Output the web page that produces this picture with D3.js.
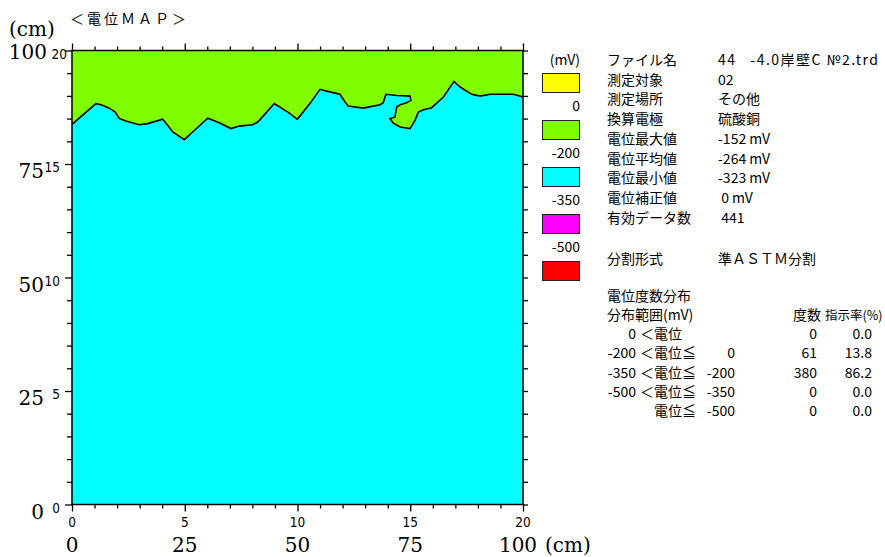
<!DOCTYPE html>
<html>
<head>
<meta charset="utf-8">
<script src="https://cdn.jsdelivr.net/npm/d3@7"></script>
<style>
  html, body { margin: 0; padding: 0; background: #fff; }
  svg { display: block; }
  .jp { font-family: "Noto Sans CJK JP", sans-serif; font-size: 14px; fill: #000; white-space: pre; }
  .small { font-family: "Liberation Sans Narrow", "DejaVu Sans Condensed", sans-serif; font-size: 13.5px; fill: #000; }
  .serif { font-family: "DejaVu Serif", serif; font-size: 20px; fill: #000; }
</style>
</head>
<body>
<svg id="chart" width="885" height="557"></svg>
<script>
// Contour between the -200..0 mV zone and the -350..-200 mV zone (grid units, 1 unit = 5 cm)
const boundaryX = [0.00, 1.06, 1.29, 1.65, 1.92, 2.10, 2.39, 2.98, 3.36, 4.02, 4.17, 4.47, 4.98, 5.35,
  6.02, 6.53, 7.05, 7.42, 8.01, 8.24, 8.97, 9.67, 9.99, 10.55, 11.00, 11.29, 11.88, 12.11, 12.25,
  12.92, 13.66, 13.80, 13.92, 14.40, 14.99, 15.03, 14.84, 14.55, 14.40, 14.32, 14.10, 14.25, 14.55,
  14.99, 15.21, 15.36, 15.58, 15.95, 16.47, 16.94, 17.21, 17.73, 18.09, 18.54, 19.57, 20.00];
const boundaryY = [16.75, 17.66, 17.61, 17.46, 17.29, 17.00, 16.89, 16.73, 16.78, 16.97, 16.80, 16.41, 16.07, 16.41,
  17.02, 16.82, 16.56, 16.67, 16.73, 16.85, 17.66, 17.22, 16.97, 17.66, 18.29, 18.21, 18.07, 17.73, 17.55,
  17.46, 17.61, 17.70, 18.07, 18.02, 17.99, 17.80, 17.70, 17.61, 17.51, 17.07, 17.00, 16.80, 16.63,
  16.56, 16.92, 17.29, 17.39, 17.48, 17.95, 18.64, 18.39, 18.07, 17.99, 18.07, 18.07, 17.95];

// Axis ticks and labels
const gridTicks = d3.range(0, 21);
const majorTicks = [0, 5, 10, 15, 20];
const cmLabels = ["0", "25", "50", "75", "100"];

// Potential classes (mV)
const legendColors = ["#FFFF00", "#80FF00", "#00FFFF", "#FF00FF", "#FF0000"];
const legendBreaks = ["0", "-200", "-350", "-500"];

// Measurement summary
const infoLabels = ["ファイル名", "測定対象", "測定場所", "換算電極", "電位最大値", "電位平均値", "電位最小値", "電位補正値", "有効データ数"];
const infoValues = ["44   -4.0岸壁C №2.trd", "02", "その他", "硫酸銅", "-152 mV", "-264 mV", "-323 mV", " 0 mV", " 441"];
const splitLabel = "分割形式";
const splitValue = "準ＡＳＴＭ分割";

// Frequency distribution
const distLower = ["0", "-200", "-350", "-500", ""];
const distRelation = ["＜電位", "＜電位≦", "＜電位≦", "＜電位≦", "電位≦"];
const distUpper = ["", "0", "-200", "-350", "-500"];
const distCount = [0, 61, 380, 0, 0];
const distRate = ["0.0", "13.8", "86.2", "0.0", "0.0"];

const svg = d3.select("#chart");
svg.append("rect").attr("width", 885).attr("height", 557).attr("fill", "#fff");

const x = d3.scaleLinear().domain([0, 20]).range([72, 523]);
const y = d3.scaleLinear().domain([0, 20]).range([504.5, 50.5]);

// Zones
svg.append("rect")
  .attr("x", x(0)).attr("y", y(20))
  .attr("width", x(20) - x(0)).attr("height", y(0) - y(20))
  .attr("fill", legendColors[1]);

const pts = boundaryX.map((d, i) => [d, boundaryY[i]]);
const line = d3.line().x(d => x(d[0])).y(d => y(d[1]));
svg.append("path")
  .attr("d", line(pts.concat([[20, 0], [0, 0]])) + "Z")
  .attr("fill", legendColors[2]);

svg.append("path")
  .attr("d", line(pts))
  .attr("fill", "none")
  .attr("stroke", "#000")
  .attr("stroke-width", 1.6);

// Frame
svg.append("rect")
  .attr("x", x(0)).attr("y", y(20))
  .attr("width", x(20) - x(0)).attr("height", y(0) - y(20))
  .attr("fill", "none").attr("stroke", "#000").attr("stroke-width", 1.5);

// Ticks on all four sides
function ticks(axisFn, scale, transform, values, size) {
  const g = svg.append("g").attr("transform", transform)
    .call(axisFn(scale).tickValues(values).tickSize(size).tickFormat(""));
  g.select(".domain").remove();
  g.selectAll("line").attr("stroke", "#000").attr("stroke-width", 1.3);
}
const minorTicks = gridTicks.filter(d => d % 5 !== 0);
ticks(d3.axisBottom, x, `translate(0,${y(0)})`, minorTicks, 4);
ticks(d3.axisBottom, x, `translate(0,${y(0)})`, majorTicks, 7);
ticks(d3.axisTop, x, `translate(0,${y(20)})`, minorTicks, 4);
ticks(d3.axisTop, x, `translate(0,${y(20)})`, majorTicks, 7);
ticks(d3.axisLeft, y, `translate(${x(0)},0)`, minorTicks, 5);
ticks(d3.axisLeft, y, `translate(${x(0)},0)`, majorTicks, 7);
ticks(d3.axisRight, y, `translate(${x(20)},0)`, gridTicks, 5);

// Grid-unit labels
svg.append("g").selectAll("text").data(majorTicks).join("text")
  .attr("class", "small")
  .attr("x", d => d === 20 ? 67 : 60).attr("y", d => y(d) + 8)
  .attr("text-anchor", "end").text(d => d);
svg.append("g").selectAll("text").data(majorTicks).join("text")
  .attr("class", "small")
  .attr("x", d => x(d)).attr("y", 527)
  .attr("text-anchor", "middle").text(d => d);

// Centimetre labels
svg.append("g").selectAll("text").data(majorTicks).join("text")
  .attr("class", "serif")
  .attr("x", d => d === 20 ? 47 : 44).attr("y", d => y(d) + (d === 20 ? 8 : 14))
  .attr("text-anchor", "end").text((d, i) => cmLabels[i]);
svg.append("g").selectAll("text").data(majorTicks).join("text")
  .attr("class", "serif")
  .attr("x", (d, i) => x(d) - (i === 4 ? 5 : 0)).attr("y", 552)
  .attr("text-anchor", "middle").text((d, i) => cmLabels[i]);
svg.append("text").attr("class", "serif").attr("x", 9).attr("y", 36).text("(cm)");
svg.append("text").attr("class", "serif").attr("x", 545).attr("y", 552).text("(cm)");

// Title
svg.append("text").attr("class", "jp").attr("x", 70).attr("y", 24)
  .attr("letter-spacing", 3).text("＜電位ＭＡＰ＞");

// Legend
svg.append("text").attr("class", "jp").attr("x", 580).attr("y", 65)
  .attr("text-anchor", "end").text("(mV)");
svg.append("g").selectAll("rect").data(legendColors).join("rect")
  .attr("x", 542.5).attr("y", (d, i) => 73.5 + i * 47)
  .attr("width", 37).attr("height", 19)
  .attr("fill", d => d).attr("stroke", "#222").attr("stroke-width", 1);
svg.append("g").selectAll("text").data(legendBreaks).join("text")
  .attr("class", "jp")
  .attr("x", 580).attr("y", (d, i) => 111 + i * 47)
  .attr("text-anchor", "end").text(d => d);

// Summary block
const info = svg.append("g");
infoLabels.forEach((lab, i) => {
  const yy = 65 + i * 19.7;
  info.append("text").attr("class", "jp").attr("x", 607).attr("y", yy).text(lab);
  const v = info.append("text").attr("class", "jp").attr("x", 718).attr("y", yy).text(infoValues[i]);
  if (i === 0) v.attr("textLength", 160).attr("lengthAdjust", "spacing");
});
info.append("text").attr("class", "jp").attr("x", 607).attr("y", 264).text(splitLabel);
info.append("text").attr("class", "jp").attr("x", 718).attr("y", 264).text(splitValue);

// Distribution table
const tbl = svg.append("g");
tbl.append("text").attr("class", "jp").attr("x", 607).attr("y", 301).text("電位度数分布");
tbl.append("text").attr("class", "jp").attr("x", 607).attr("y", 320).text("分布範囲(mV)");
tbl.append("text").attr("class", "jp").attr("x", 821).attr("y", 320).attr("text-anchor", "end").text("度数");
tbl.append("text").attr("class", "jp").attr("x", 825).attr("y", 320)
  .style("font-size", "12.5px").text("指示率(%)");
distCount.forEach((c, i) => {
  const yy = 339 + i * 19.3;
  tbl.append("text").attr("class", "jp").attr("x", 636).attr("y", yy).attr("text-anchor", "end").text(distLower[i]);
  tbl.append("text").attr("class", "jp").attr("x", distRelation[i].startsWith("＜") ? 640 : 654).attr("y", yy).text(distRelation[i]);
  tbl.append("text").attr("class", "jp").attr("x", 735).attr("y", yy).attr("text-anchor", "end").text(distUpper[i]);
  tbl.append("text").attr("class", "jp").attr("x", 817).attr("y", yy).attr("text-anchor", "end").text(c);
  tbl.append("text").attr("class", "jp").attr("x", 872).attr("y", yy).attr("text-anchor", "end").text(distRate[i]);
});
</script>
</body>
</html>
